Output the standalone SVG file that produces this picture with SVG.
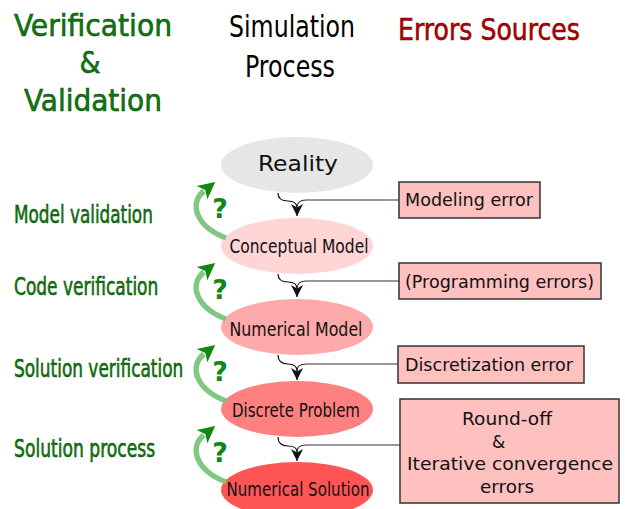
<svg xmlns="http://www.w3.org/2000/svg" width="625" height="509" viewBox="0 0 625 509">
<style>
.hdr{font-family:"DejaVu Sans Condensed","DejaVu Sans",sans-serif;font-size:30px;text-anchor:middle}
.grn{fill:#0b7a0b;stroke:#034503;stroke-width:0.5}
.red{fill:#b30000;stroke:#6a0000;stroke-width:0.5}
.blk{fill:#000}
.lbl{font-family:"DejaVu Sans Condensed","DejaVu Sans",sans-serif;font-size:24px}
.nt{font-family:"DejaVu Sans Condensed","DejaVu Sans",sans-serif;font-size:19px;text-anchor:middle;fill:#111}
.bt{font-family:"DejaVu Sans","Liberation Sans",sans-serif;font-size:17px;fill:#111}
.box{fill:#ffc0c0;stroke:#333;stroke-width:1.5}
.con{fill:none;stroke:#111;stroke-width:1.2}
.bl{fill:none;stroke:#333;stroke-width:1.2}
.ga{fill:none;stroke:#80c880;stroke-width:5.5;marker-end:url(#gh)}
.q{font-family:"DejaVu Sans","Liberation Sans",sans-serif;font-size:27px;font-weight:bold;fill:#118811;text-anchor:middle}
</style>
<defs>
<marker id="ah" viewBox="0 0 10 10" refX="10" refY="5" markerWidth="12" markerHeight="12" markerUnits="userSpaceOnUse" orient="auto">
<path d="M0,0 L10,5 L0,10 L3,5 Z" fill="#111"/>
</marker>
<marker id="gh" viewBox="0 0 10 10" refX="1.5" refY="5" markerWidth="21" markerHeight="17" markerUnits="userSpaceOnUse" orient="auto">
<path d="M0,0 L10,5 L0,10 L2.5,5 Z" fill="#118811"/>
</marker>
</defs>

<g id="headers">
<text class="hdr grn" x="93" y="36" textLength="158" lengthAdjust="spacingAndGlyphs">Verification</text>
<text class="hdr grn" x="90" y="73">&amp;</text>
<text class="hdr grn" x="93" y="111" textLength="138" lengthAdjust="spacingAndGlyphs">Validation</text>
<text class="hdr blk" x="292" y="37" textLength="126" lengthAdjust="spacingAndGlyphs">Simulation</text>
<text class="hdr blk" x="290" y="77" textLength="90" lengthAdjust="spacingAndGlyphs">Process</text>
<text class="hdr red" x="489" y="40" textLength="182" lengthAdjust="spacingAndGlyphs">Errors Sources</text>
</g>

<g id="labels">
<text class="lbl grn" transform="translate(14,223) scale(0.78,1)" textLength="178" lengthAdjust="spacingAndGlyphs">Model validation</text>
<text class="lbl grn" transform="translate(14,295) scale(0.78,1)" textLength="185" lengthAdjust="spacingAndGlyphs">Code verification</text>
<text class="lbl grn" transform="translate(14,377) scale(0.78,1)" textLength="217" lengthAdjust="spacingAndGlyphs">Solution verification</text>
<text class="lbl grn" transform="translate(14,457) scale(0.78,1)" textLength="181" lengthAdjust="spacingAndGlyphs">Solution process</text>
</g>

<g id="connectors">
<path class="con" d="M278 193 Q278 201 288 201 Q297 201 297 208 L297 216" marker-end="url(#ah)"/>
<path class="bl" d="M399 200 L306 200 Q297 200 297 208"/>
<path class="con" d="M278 274 Q278 282 288 282 Q297 282 297 289 L297 297" marker-end="url(#ah)"/>
<path class="bl" d="M399 281 L306 281 Q297 281 297 289"/>
<path class="con" d="M278 355 Q278 364 288 364 Q297 364 297 371 L297 380" marker-end="url(#ah)"/>
<path class="bl" d="M398 364 L306 364 Q297 364 297 371"/>
<path class="con" d="M278 437 Q278 446 288 446 Q297 446 297 452 L297 461" marker-end="url(#ah)"/>
<path class="bl" d="M400 445 L306 445 Q297 445 297 452"/>
</g>

<g id="reality">
<ellipse cx="297" cy="165" rx="76" ry="28" fill="#e6e6e6"/>
<text class="nt" x="298" y="171" style="font-size:22px" textLength="80" lengthAdjust="spacingAndGlyphs">Reality</text>
</g>
<g id="conceptual">
<ellipse cx="297" cy="246" rx="76" ry="28" fill="#ffd5d5"/>
<text class="nt" x="299" y="253" textLength="139" lengthAdjust="spacingAndGlyphs">Conceptual Model</text>
</g>
<g id="numerical-model">
<ellipse cx="297" cy="327" rx="76" ry="28" fill="#ffaaaa"/>
<text class="nt" x="296" y="336" textLength="133" lengthAdjust="spacingAndGlyphs">Numerical Model</text>
</g>
<g id="discrete">
<ellipse cx="297" cy="409" rx="76" ry="28" fill="#ff8080"/>
<text class="nt" x="296" y="417" textLength="128" lengthAdjust="spacingAndGlyphs">Discrete Problem</text>
</g>
<g id="numerical-solution">
<ellipse cx="297" cy="490" rx="76" ry="28" fill="#ff5555"/>
<text class="nt" x="298" y="496" textLength="143" lengthAdjust="spacingAndGlyphs">Numerical Solution</text>
</g>

<g id="vv-arrows">
<path class="ga" d="M226 238 C197 227 188 204 204 191"/>
<text class="q" x="220" y="218">?</text>
<path class="ga" d="M226 319 C197 308 188 285 204 272"/>
<text class="q" x="220" y="299">?</text>
<path class="ga" d="M226 401 C197 390 188 367 204 354"/>
<text class="q" x="220" y="381">?</text>
<path class="ga" d="M226 482 C197 471 188 448 204 435"/>
<text class="q" x="220" y="462">?</text>
</g>

<g id="modeling-error">
<rect class="box" x="399" y="182" width="141" height="36"/>
<text class="bt" x="405" y="206" textLength="128" lengthAdjust="spacingAndGlyphs">Modeling error</text>
</g>
<g id="programming-errors">
<rect class="box" x="399" y="263" width="202" height="36"/>
<text class="bt" x="405" y="288" textLength="189" lengthAdjust="spacingAndGlyphs">(Programming errors)</text>
</g>
<g id="discretization-error">
<rect class="box" x="398" y="346" width="186" height="37"/>
<text class="bt" x="405" y="371" textLength="168" lengthAdjust="spacingAndGlyphs">Discretization error</text>
</g>
<g id="roundoff-errors">
<rect class="box" x="400" y="399" width="219" height="104"/>
<text class="bt" x="462" y="425" textLength="90" lengthAdjust="spacingAndGlyphs">Round-off</text>
<text class="bt" x="492" y="448">&amp;</text>
<text class="bt" x="407" y="470" textLength="206" lengthAdjust="spacingAndGlyphs">Iterative convergence</text>
<text class="bt" x="480" y="493" textLength="54" lengthAdjust="spacingAndGlyphs">errors</text>
</g>
</svg>
